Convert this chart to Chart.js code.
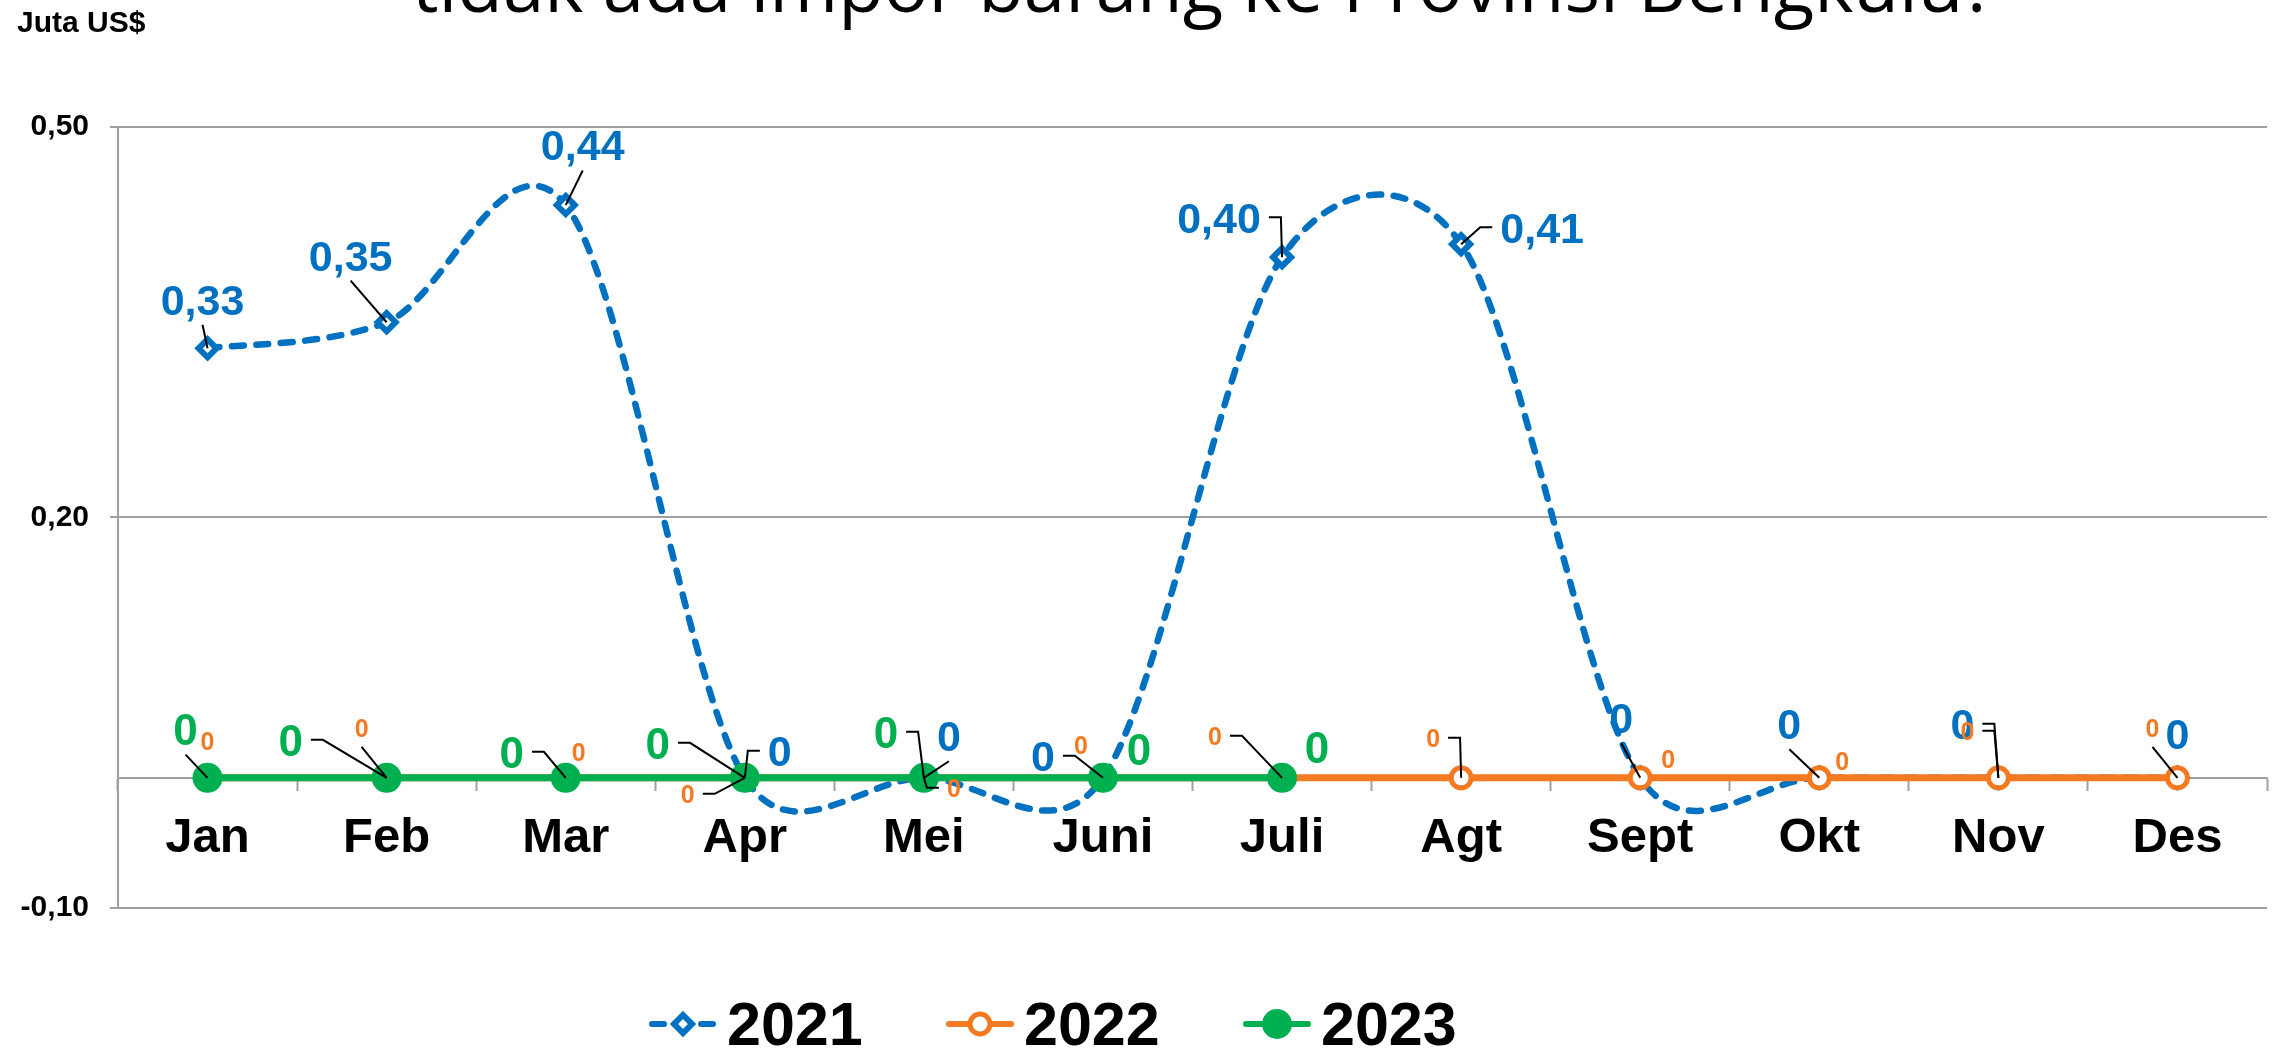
<!DOCTYPE html>
<html>
<head>
<meta charset="utf-8">
<title>Impor Provinsi Bengkulu</title>
<script src="https://cdn.jsdelivr.net/npm/chart.js@4.4.1/dist/chart.umd.min.js"></script>
<style>
  html, body { margin: 0; padding: 0; background: #fff; overflow: hidden; }
</style>
</head>
<body>
<canvas id="importChart" width="2282" height="1048"></canvas>
<script>
// Data (Juta US$)
const months = ['Jan', 'Feb', 'Mar', 'Apr', 'Mei', 'Juni', 'Juli', 'Agt', 'Sept', 'Okt', 'Nov', 'Des'];
const seriesNames = ['2021', '2022', '2023'];
const values2021 = [0.33, 0.35, 0.44, 0, 0, 0, 0.40, 0.41, 0, 0, 0, 0];
const values2022 = [0, 0, 0, 0, 0, 0, 0, 0, 0, 0, 0, 0];
const values2023 = [0, 0, 0, 0, 0, 0, 0];
const yTicks = [-0.10, 0.20, 0.50];
const unitLabel = 'Juta US$';
const headline = 'tidak ada impor barang ke Provinsi Bengkulu?';

// where each value label sits relative to its point: [dx, dy, leader side]
const labelPos2021 = [[-5, -49, 'b'], [-36, -67, 'b'], [17, -60, 'b'], [35, -27, 'r'], [25, -42, 'b'], [-60, -22, 'l'],
  [-63, -40, 'l'], [81, -17, 'r'], [-19, -60, 'b'], [-30, -54, 'b'], [-36, -54, 'l'], [0, -44, '']];
const labelPos2022 = [[0, -37, ''], [-25, -50, 'b'], [13, -26, ''], [-57, 16, 'l'], [30, 10, 'r'], [-22, -33, ''],
  [-67, -42, 'l'], [-28, -40, 'l'], [28, -19, ''], [23, -17, ''], [-31, -47, 'l'], [-25, -50, 'b']];
const labelPos2023 = [[-22, -49, 'b'], [-96, -38, 'l'], [-54, -26, 'l'], [-87, -35, 'l'], [-38, -46, 'l'], [36, -29, ''], [35, -31, '']];

const FONT = '"Liberation Sans", Arial, sans-serif';
const GRID = '#a0a0a0';
const BLUE = '#0070C0';
const ORANGE = '#F47920';
const GREEN = '#00B050';

// 0,33 style numbers
function fmt(v) {
  return v === 0 ? '0' : v.toFixed(2).replace('.', ',');
}

// Marker for the legend (same look as the points)
function drawMarker(ctx, ds, x, y) {
  const r = ds.pointRadius;
  ctx.beginPath();
  if (ds.pointStyle === 'rectRot') {
    ctx.moveTo(x, y - r);
    ctx.lineTo(x + r, y);
    ctx.lineTo(x, y + r);
    ctx.lineTo(x - r, y);
    ctx.closePath();
  } else {
    ctx.arc(x, y, r, 0, Math.PI * 2);
  }
  ctx.fillStyle = ds.pointBackgroundColor;
  ctx.fill();
  if (ds.pointBorderWidth) {
    ctx.lineWidth = ds.pointBorderWidth;
    ctx.strokeStyle = ds.pointBorderColor;
    ctx.stroke();
  }
}

// Office-style smoothing: arm = 1/6 of the neighbour chord, never longer than half the segment
const officeSmooth = {
  id: 'officeSmooth',
  beforeDatasetDraw(chart, args) {
    const ds = chart.data.datasets[args.index];
    if (!ds.officeSmooth) return;
    const pts = args.meta.data;
    for (let i = 0; i < pts.length; i++) {
      const p = pts[i];
      const prev = pts[i - 1] || p;
      const next = pts[i + 1] || p;
      const vx = (next.x - prev.x) / 6;
      const vy = (next.y - prev.y) / 6;
      const len = Math.hypot(vx, vy) || 1;
      const kIn = Math.min(1, Math.hypot(p.x - prev.x, p.y - prev.y) / 2 / len);
      const kOut = Math.min(1, Math.hypot(next.x - p.x, next.y - p.y) / 2 / len);
      p.cp1x = p.x - vx * kIn;
      p.cp1y = p.y - vy * kIn;
      p.cp2x = p.x + vx * kOut;
      p.cp2y = p.y + vy * kOut;
    }
    args.meta.dataset._pointsUpdated = true;
  }
};

// Value labels with leader lines
const pointLabels = {
  id: 'pointLabels',
  afterDatasetsDraw(chart) {
    const ctx = chart.ctx;
    const items = [];
    chart.data.datasets.forEach((ds, di) => {
      const meta = chart.getDatasetMeta(di);
      ctx.font = `bold ${ds.labelSize}px ${FONT}`;
      meta.data.forEach((pt, i) => {
        const [dx, dy, lead] = ds.labelPos[i];
        const text = fmt(ds.data[i]);
        items.push({
          px: pt.x, py: pt.y, cx: pt.x + dx, cy: pt.y + dy,
          w: ctx.measureText(text).width, h: ds.labelSize * 0.716,
          lead, text, size: ds.labelSize, color: ds.borderColor
        });
      });
    });

    ctx.save();
    ctx.strokeStyle = '#000';
    ctx.lineWidth = 2;
    items.forEach(it => {
      if (!it.lead) return;
      ctx.beginPath();
      if (it.lead === 'l') {
        const sx = it.cx + it.w / 2 + 8;
        ctx.moveTo(sx, it.cy);
        ctx.lineTo(sx + 12, it.cy);
      } else if (it.lead === 'r') {
        const sx = it.cx - it.w / 2 - 8;
        ctx.moveTo(sx, it.cy);
        ctx.lineTo(sx - 12, it.cy);
      } else {
        ctx.moveTo(it.cx, it.cy + it.h / 2 + 10);
      }
      ctx.lineTo(it.px, it.py);
      ctx.stroke();
    });

    ctx.textAlign = 'center';
    ctx.textBaseline = 'alphabetic';
    items.forEach(it => {
      ctx.font = `bold ${it.size}px ${FONT}`;
      ctx.fillStyle = it.color;
      ctx.fillText(it.text, it.cx, it.cy + it.h / 2);
    });
    ctx.restore();
  }
};

// Headline (cut at the top) and unit
const headerText = {
  id: 'headerText',
  afterDraw(chart) {
    const ctx = chart.ctx;
    ctx.save();
    ctx.fillStyle = '#000';
    ctx.textAlign = 'left';
    ctx.textBaseline = 'alphabetic';
    ctx.font = '400 100px "Open Sans", sans-serif';
    const size = 100 * 1584 / ctx.measureText(headline).width;
    ctx.font = `400 ${size}px "Open Sans", sans-serif`;
    ctx.fillText(headline, 412, 12);
    ctx.font = `bold 30px ${FONT}`;
    ctx.fillText(unitLabel, 17, 32);
    ctx.restore();
  }
};

// Legend: line + marker + year
const lineLegend = {
  id: 'lineLegend',
  afterDraw(chart) {
    const ctx = chart.ctx;
    chart.data.datasets.forEach((ds, i) => {
      const x = 649 + i * 297;
      const y = 1024;
      ctx.save();
      ctx.strokeStyle = ds.borderColor;
      ctx.lineWidth = 6;
      ctx.lineCap = 'round';
      ctx.setLineDash(ds.borderDash || []);
      ctx.beginPath();
      ctx.moveTo(x + 3, y);
      ctx.lineTo(x + 65, y);
      ctx.stroke();
      ctx.setLineDash([]);
      drawMarker(ctx, ds, x + 34, y);
      ctx.fillStyle = '#000';
      ctx.font = `bold 61px ${FONT}`;
      ctx.textBaseline = 'alphabetic';
      ctx.fillText(ds.label, x + 78, 1045);
      ctx.restore();
    });
  }
};

Chart.defaults.font.family = FONT;

new Chart(document.getElementById('importChart'), {
  type: 'line',
  data: {
    labels: months,
    datasets: [
      {
        label: seriesNames[0],
        data: values2021,
        borderColor: BLUE,
        borderWidth: 6.5,
        borderDash: [12, 12.5],
        borderCapStyle: 'round',
        tension: 0.4,
        officeSmooth: true,
        pointStyle: 'rectRot',
        pointRadius: 9,
        pointBorderWidth: 6,
        pointBorderColor: BLUE,
        pointBackgroundColor: '#fff',
        order: 3,
        labelPos: labelPos2021,
        labelSize: 43
      },
      {
        label: seriesNames[1],
        data: values2022,
        borderColor: ORANGE,
        borderWidth: 7,
        tension: 0,
        pointStyle: 'circle',
        pointRadius: 10,
        pointBorderWidth: 5,
        pointBorderColor: ORANGE,
        pointBackgroundColor: '#fff',
        order: 2,
        labelPos: labelPos2022,
        labelSize: 25
      },
      {
        label: seriesNames[2],
        data: values2023,
        borderColor: GREEN,
        borderWidth: 7,
        tension: 0,
        pointStyle: 'circle',
        pointRadius: 15,
        pointBorderWidth: 0,
        pointBorderColor: GREEN,
        pointBackgroundColor: GREEN,
        order: 1,
        labelPos: labelPos2023,
        labelSize: 44
      }
    ]
  },
  options: {
    responsive: false,
    animation: false,
    events: [],
    layout: { padding: { top: 127, bottom: 140, left: 0, right: 0 } },
    plugins: {
      legend: { display: false },
      tooltip: { enabled: false },
      title: { display: false }
    },
    scales: {
      x: {
        type: 'category',
        offset: true,
        position: { y: 0 },
        grid: { display: true, drawOnChartArea: false, drawTicks: true, tickLength: 12, tickWidth: 2, tickColor: GRID, offset: true },
        border: { display: true, color: GRID, width: 2 },
        ticks: { color: '#000', font: { size: 49, weight: 'bold' }, padding: 19, maxRotation: 0, autoSkip: false }
      },
      y: {
        min: -0.1,
        max: 0.5,
        afterBuildTicks: scale => { scale.ticks = yTicks.map(v => ({ value: v })); },
        afterFit: scale => { scale.width = 118; },
        grid: { color: GRID, lineWidth: 2, tickLength: 8, drawTicks: true },
        border: { display: true, color: GRID, width: 2 },
        ticks: { color: '#000', font: { size: 30, weight: 'bold' }, padding: 21, callback: v => v.toFixed(2).replace('.', ',') }
      }
    }
  },
  plugins: [officeSmooth, pointLabels, headerText, lineLegend]
});
</script>
</body>
</html>
